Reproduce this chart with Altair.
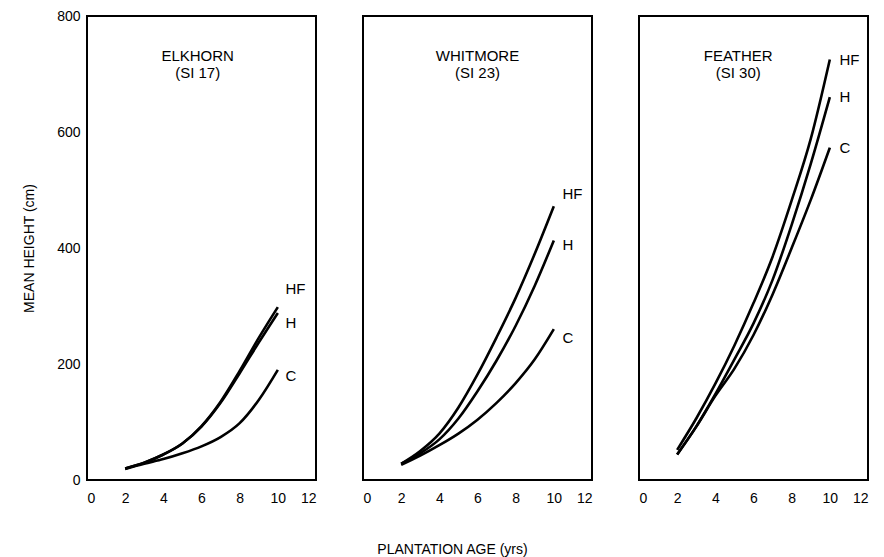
import altair as alt
import pandas as pd

# ---- data ----
sites = ["ELKHORN", "WHITMORE", "FEATHER"]
site_index = ["(SI 17)", "(SI 23)", "(SI 30)"]
ages = [2, 3, 4, 5, 6, 7, 8, 9, 10]

elkhorn_hf = [20, 30, 44, 63, 93, 135, 188, 245, 298]
elkhorn_h = [20, 30, 44, 63, 92, 133, 184, 237, 288]
elkhorn_c = [19, 28, 36, 46, 58, 74, 98, 138, 190]

whitmore_hf = [28, 50, 80, 125, 182, 246, 314, 390, 472]
whitmore_h = [28, 46, 70, 106, 153, 206, 266, 335, 413]
whitmore_c = [26, 42, 60, 80, 104, 133, 167, 208, 260]

feather_hf = [52, 106, 166, 232, 305, 385, 482, 588, 725]
feather_h = [44, 92, 148, 208, 270, 345, 440, 545, 660]
feather_c = [44, 92, 145, 192, 250, 320, 400, 483, 573]

treatments = ["HF", "H", "C"]
# label anchor heights (cm) of the HF / H / C tags per site
elkhorn_label_y = [329, 271, 179]
whitmore_label_y = [493, 406, 245]
feather_label_y = [725, 660, 573]
label_age = [10.4, 10.45, 10.5]

title_age = [5.8, 6.0, 5.2]
title_y1 = 731
title_y2 = 702

x_ticks = [0, 2, 4, 6, 8, 10, 12]
y_ticks = [0, 200, 400, 600, 800]

series = {
    "ELKHORN": [elkhorn_hf, elkhorn_h, elkhorn_c],
    "WHITMORE": [whitmore_hf, whitmore_h, whitmore_c],
    "FEATHER": [feather_hf, feather_h, feather_c],
}
label_ys = {
    "ELKHORN": elkhorn_label_y,
    "WHITMORE": whitmore_label_y,
    "FEATHER": feather_label_y,
}

FONT = "Liberation Sans"


def panel(i, site):
    rows = []
    for t, vals in zip(treatments, series[site]):
        for a, v in zip(ages, vals):
            rows.append({"age": a, "height": v, "trt": t})
    df = pd.DataFrame(rows)
    lab = pd.DataFrame({"age": [label_age[i]] * 3, "height": label_ys[site],
                        "trt": treatments})
    ttl = pd.DataFrame({"age": [title_age[i], title_age[i]],
                        "height": [title_y1, title_y2],
                        "txt": [site, site_index[i]]})

    if i == 0:
        yaxis = alt.Axis(values=y_ticks, title="MEAN HEIGHT (cm)", labelPadding=7,
                         titlePadding=20, domain=False, ticks=False, grid=False)
    else:
        yaxis = None
    if i == 1:
        xaxis = alt.Axis(values=x_ticks, title="PLANTATION AGE (yrs)", titleX=89,
                         titleY=69, titleAlign="center", titleBaseline="middle",
                         domain=False, ticks=False, grid=False, labelOverlap=False)
    else:
        xaxis = alt.Axis(values=x_ticks, title=None, domain=False, ticks=False,
                         grid=False, labelOverlap=False)

    x = alt.X("age:Q", scale=alt.Scale(domain=[0, 12], nice=False), axis=xaxis)
    y = alt.Y("height:Q", scale=alt.Scale(domain=[0, 800], nice=False), axis=yaxis)

    lines = alt.Chart(df).mark_line(color="black", strokeWidth=2.6,
                                    interpolate="monotone").encode(
        x=x, y=y, detail="trt:N")
    labels = alt.Chart(lab).mark_text(align="left", baseline="middle", fontSize=15,
                                      font=FONT, color="black").encode(
        x=x, y=y, text="trt:N")
    titles = alt.Chart(ttl).mark_text(align="center", baseline="middle", fontSize=15,
                                      font=FONT, color="black").encode(
        x=x, y=y, text="txt:N")
    return alt.layer(lines, labels, titles).properties(width=229, height=464)


chart = alt.hconcat(*[panel(i, s) for i, s in enumerate(sites)], spacing=47).properties(
    padding={"top": 0, "left": 13, "right": 2, "bottom": 0},
    bounds="flush",
    background="white",
).configure_view(
    stroke="black", strokeWidth=2
).configure_axis(
    labelFont=FONT, titleFont=FONT, labelFontSize=14, titleFontSize=14,
    labelColor="black", titleColor="black", titleFontWeight="normal",
).configure_axisX(
    labelPadding=11
)

chart.save("out.html", embed_options={"renderer": "svg", "actions": False})
